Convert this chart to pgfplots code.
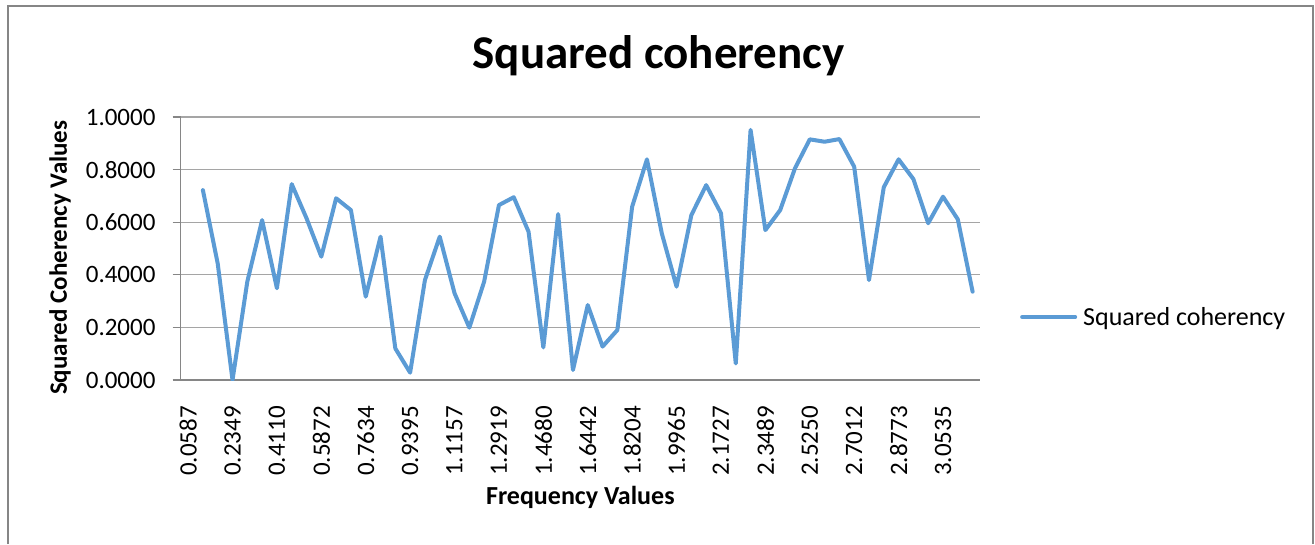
\documentclass[border=0pt]{standalone}
\usepackage{fontspec}
\setmainfont{Carlito}
\usepackage{pgfplots}
\pgfplotsset{compat=1.18}
\definecolor{excelblue}{RGB}{91,155,213}
\definecolor{framegray}{RGB}{134,134,134}
\definecolor{gridgray}{RGB}{165,165,165}

\begin{document}
\begin{tikzpicture}
\fill[white] (0,0) rectangle (1315pt,-544pt);
\useasboundingbox (0,0) rectangle (1315pt,-544pt);
\draw[framegray, line width=2pt] (7.5pt,-544pt) -- (7.5pt,-5.5pt) -- (1313pt,-5.5pt) -- (1313pt,-544pt);
\begin{axis}[
  at={(180.7pt,-380pt)}, anchor=south west,
  scale only axis, width=799.3pt, height=263pt,
  xmin=-0.5, xmax=53.5, ymin=0, ymax=1,
  axis x line*=bottom, axis y line*=left,
  axis line style={framegray, line width=1.3pt},
  ymajorgrids, major grid style={gridgray, line width=1.3pt},
  tick align=outside, major tick length=8pt,
  ytick={0,0.2,0.4,0.6,0.8,1},
  yticklabels={0.0000,0.2000,0.4000,0.6000,0.8000,1.0000},
  ytick style={framegray, line width=1.3pt},
  xtick={0,3,...,51},
  xticklabels={0.0587,0.2349,0.4110,0.5872,0.7634,0.9395,1.1157,1.2919,1.4680,
    1.6442,1.8204,1.9965,2.1727,2.3489,2.5250,2.7012,2.8773,3.0535},
  xtick style={draw=none},
  ticklabel style={font=\fontsize{25}{30}\selectfont, inner sep=0pt},
  xticklabel style={rotate=90, anchor=east},
  xticklabel shift=18pt, yticklabel shift=17pt,
  title={Squared coherency},
  title style={at={(axis description cs:0.598,1.16)}, anchor=base,
    font=\bfseries\fontsize{47}{56}\selectfont, inner sep=0pt},
  xlabel={Frequency Values},
  xlabel style={at={(axis description cs:0.5,-0.475)}, anchor=base,
    font=\bfseries\fontsize{26}{30}\selectfont, inner sep=0pt},
  ylabel={Squared Coherency Values},
  ylabel style={at={(axis description cs:-0.151,0.465)}, anchor=center,
    font=\bfseries\fontsize{25}{30}\selectfont, inner sep=0pt},
  legend style={at={(axis description cs:1.05,0.2395)}, anchor=west,
    draw=none, fill=none, inner sep=0pt, column sep=6pt,
    nodes={inner sep=0pt}, font=\fontsize{26}{30}\selectfont},
  legend image code/.code={\draw[#1] (0pt,0pt) -- (53pt,0pt);},
]
\addplot[excelblue, line width=4pt, line join=round, line cap=round] coordinates {
  (1,0.722) (2,0.443) (3,0.000) (4,0.374) (5,0.608) (6,0.349) (7,0.745)
  (8,0.615) (9,0.469) (10,0.691) (11,0.646) (12,0.317) (13,0.545) (14,0.120)
  (15,0.028) (16,0.380) (17,0.545) (18,0.330) (19,0.199) (20,0.374) (21,0.665)
  (22,0.695) (23,0.564) (24,0.124) (25,0.631) (26,0.038) (27,0.285) (28,0.127)
  (29,0.190) (30,0.659) (31,0.839) (32,0.558) (33,0.355) (34,0.627) (35,0.741)
  (36,0.634) (37,0.063) (38,0.951) (39,0.570) (40,0.646) (41,0.805) (42,0.915)
  (43,0.906) (44,0.916) (45,0.811) (46,0.380) (47,0.733) (48,0.839) (49,0.764)
  (50,0.596) (51,0.697) (52,0.611) (53,0.336)
};
\addlegendentry{Squared coherency}
\end{axis}
\end{tikzpicture}
\end{document}
